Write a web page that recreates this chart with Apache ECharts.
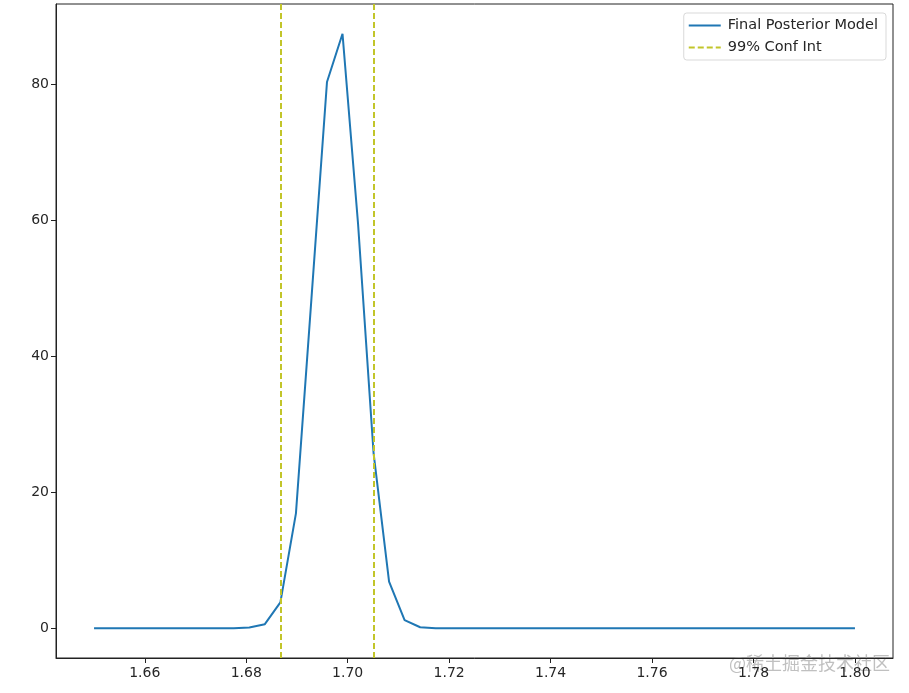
<!DOCTYPE html>
<html>
<head>
<meta charset="utf-8">
<title>Final Posterior Model</title>
<script src="https://cdn.jsdelivr.net/npm/echarts@6/dist/echarts.min.js"></script>
<style>
  html, body { margin: 0; padding: 0; background: #fff; }
  #chart { width: 909px; height: 693px; }
</style>
</head>
<body>
<div id="chart"></div>
<script>
  // x grid of the posterior: 50 points from 1.65 to 1.80
  var xValues = [
    1.65000, 1.65306, 1.65612, 1.65918, 1.66224, 1.66531, 1.66837, 1.67143, 1.67449, 1.67755,
    1.68061, 1.68367, 1.68673, 1.68980, 1.69286, 1.69592, 1.69898, 1.70204, 1.70510, 1.70816,
    1.71122, 1.71429, 1.71735, 1.72041, 1.72347, 1.72653, 1.72959, 1.73265, 1.73571, 1.73878,
    1.74184, 1.74490, 1.74796, 1.75102, 1.75408, 1.75714, 1.76020, 1.76327, 1.76633, 1.76939,
    1.77245, 1.77551, 1.77857, 1.78163, 1.78469, 1.78776, 1.79082, 1.79388, 1.79694, 1.80000
  ];
  var posterior = [
    0, 0, 0, 0, 0, 0, 0, 0, 0, 0,
    0.1, 0.6, 3.8, 16.9, 48.5, 80.3, 87.4, 59.5, 25.8, 6.85,
    1.2, 0.15, 0.01, 0, 0, 0, 0, 0, 0, 0,
    0, 0, 0, 0, 0, 0, 0, 0, 0, 0,
    0, 0, 0, 0, 0, 0, 0, 0, 0, 0
  ];
  var confInterval = [1.68673, 1.70510];

  var xTicks = [1.66, 1.68, 1.70, 1.72, 1.74, 1.76, 1.78, 1.80];
  var yTicks = [0, 20, 40, 60, 80];

  var seriesData = xValues.map(function (x, i) { return [x, posterior[i]]; });

  var chart = echarts.init(document.getElementById('chart'));
  var font = 'DejaVu Sans';

  chart.setOption({
    animation: false,
    backgroundColor: '#fff',
    grid: {
      left: 56, right: 16, top: 4, bottom: 35,
      show: true, borderColor: '#222', borderWidth: 1, backgroundColor: 'transparent'
    },
    xAxis: {
      type: 'value',
      min: 1.6425,
      max: 1.8075,
      splitLine: { show: false },
      axisLine: { show: true, onZero: false, lineStyle: { color: '#222', width: 1 } },
      axisTick: { show: true, length: 5, customValues: xTicks, lineStyle: { color: '#222' } },
      axisLabel: {
        customValues: xTicks, margin: 8, color: '#262626', fontSize: 14, fontFamily: font,
        formatter: function (v) { return v.toFixed(2); }
      }
    },
    yAxis: {
      type: 'value',
      min: -4.37,
      max: 91.77,
      splitLine: { show: false },
      axisLine: { show: true, onZero: false, lineStyle: { color: '#222', width: 1 } },
      axisTick: { show: true, length: 5, customValues: yTicks, lineStyle: { color: '#222' } },
      axisLabel: { customValues: yTicks, margin: 7, color: '#262626', fontSize: 14, fontFamily: font }
    },
    legend: {
      orient: 'vertical',
      right: 23,
      top: 13,
      itemWidth: 32,
      itemHeight: 12,
      itemGap: 7,
      padding: [5, 8, 5, 4],
      borderColor: '#d9d9d9',
      borderWidth: 1,
      borderRadius: 3,
      backgroundColor: '#fff',
      textStyle: { fontFamily: font, fontSize: 14.5, color: '#262626', padding: [0, 0, 0, 2] },
      data: [
        { name: 'Final Posterior Model', itemStyle: { opacity: 0 } },
        { name: '99% Conf Int', itemStyle: { opacity: 0 } }
      ]
    },
    series: [
      {
        name: 'Final Posterior Model',
        type: 'line',
        symbol: 'none',
        data: seriesData,
        lineStyle: { color: '#1f77b4', width: 2 },
        itemStyle: { color: '#1f77b4' },
        emphasis: { disabled: true }
      },
      {
        name: '99% Conf Int',
        type: 'line',
        symbol: 'none',
        data: [],
        lineStyle: { color: '#c2c52a', width: 2, type: [6, 3] },
        itemStyle: { color: '#c2c52a' },
        markLine: {
          silent: true,
          precision: 5,
          symbol: ['none', 'none'],
          label: { show: false },
          lineStyle: { color: '#c2c52a', width: 2, type: [6, 3] },
          emphasis: { disabled: true },
          data: confInterval.map(function (v) { return { xAxis: v }; })
        }
      }
    ],
    graphic: [
      {
        type: 'text',
        right: 19,
        bottom: 21,
        style: {
          text: '@稀土掘金技术社区',
          fill: 'rgba(165,165,165,0.7)',
          fontSize: 18,
          fontFamily: 'Noto Sans CJK SC'
        }
      }
    ]
  });
</script>
</body>
</html>
